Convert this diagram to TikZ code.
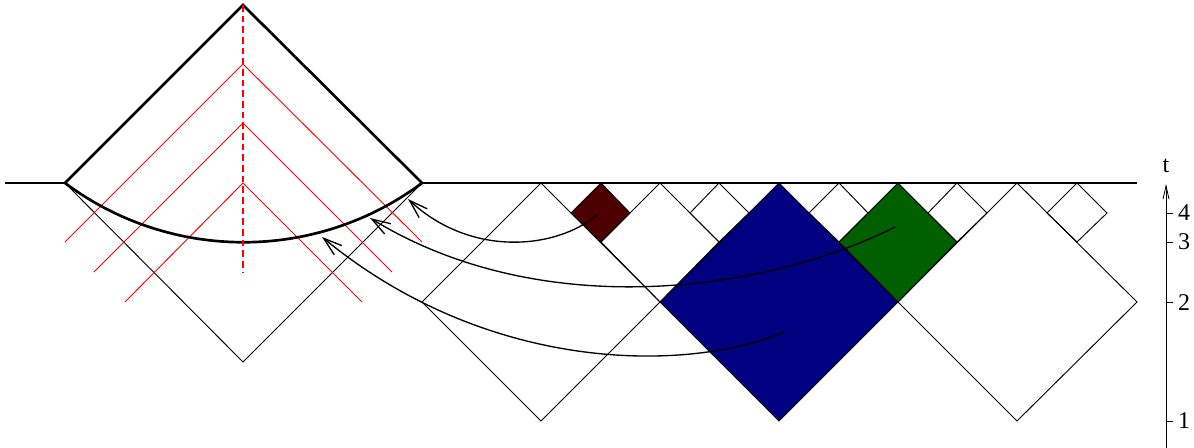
\documentclass[tikz,border=0pt]{standalone}
\usepackage{fontspec}
\setmainfont{Liberation Serif}
\usetikzlibrary{arrows.meta}
\definecolor{bluefill}{RGB}{0,0,128}
\definecolor{greenfill}{RGB}{0,96,0}
\definecolor{redfill}{RGB}{77,0,0}
\tikzset{
  thinline/.style={draw=black,line width=0.7pt,line join=miter},
  thickline/.style={draw=black,line width=2pt,line join=miter},
  redline/.style={draw=red,line width=0.7pt},
  reddash/.style={draw=red,line width=0.9pt,dash pattern=on 5pt off 3pt},
  linkcurve/.style={draw=black,line width=1pt,-{Straight Barb[length=14pt,width=9pt,line width=1pt]}},
  ticklabel/.style={inner sep=0pt,font=\fontsize{18}{20}\selectfont},
}
\begin{document}
\begin{tikzpicture}[x=0.75pt,y=-0.75pt]
\useasboundingbox (0,0) rectangle (1194,448);
% coordinates
\coordinate (a1) at (422,183);
\coordinate (a2) at (65,183);
\coordinate (apex) at (243,5);
\coordinate (dbot) at (243,272);
% left diamond lower edges
\draw[thinline] (a2) -- (243,362) -- (a1);
% red nested wedges
\draw[redline] (65,242) -- (243,64) -- (422,242);
\draw[redline] (94,272) -- (243,123) -- (392,272);
\draw[redline] (125,302) -- (243,183) -- (362,302);
% thick cap
\draw[thickline] (a2) -- (apex) -- (a1);
\draw[thickline] (a2) .. controls (171,262) and (316,262) .. (a1);
\draw[thickline] (5,183) -- (a2);
\draw[reddash] (apex) -- (dbot);
% large diamonds
\draw[thinline] (541,183) -- (422,302) -- (541,421) -- (660,302) -- cycle;
\draw[thinline,fill=bluefill] (779,183) -- (660,302) -- (779,421) -- (898,302) -- cycle;
\draw[thinline] (1017,183) -- (898,302) -- (1017,421) -- (1137,302) -- cycle;
% medium diamonds
\draw[thinline] (660,183) -- (601,242) -- (660,302) -- (719,242) -- cycle;
\draw[thinline,fill=greenfill] (898,183) -- (839,242) -- (898,302) -- (957,242) -- cycle;
% small diamonds
\draw[thinline,fill=redfill] (601,183) -- (571,213) -- (601,242) -- (630,213) -- cycle;
\draw[thinline] (719,183) -- (690,213) -- (719,242) -- (749,213) -- cycle;
\draw[thinline] (839,183) -- (809,213) -- (839,242) -- (868,213) -- cycle;
\draw[thinline] (957,183) -- (928,213) -- (957,242) -- (987,213) -- cycle;
\draw[thinline] (1077,183) -- (1047,213) -- (1077,242) -- (1107,213) -- cycle;
\draw[thickline] (a1) -- (1137,183);
% links
\coordinate (s1) at (597,215); \coordinate (e1) at (408,199);
\coordinate (s2) at (895,227); \coordinate (e2) at (370,218);
\coordinate (s3) at (784,332); \coordinate (e3) at (322,237);
\draw[linkcurve] (s1) .. controls (555,250) and (470,257) .. (e1);
\draw[linkcurve] (s2) .. controls (770,290) and (545,325) .. (e2);
\draw[linkcurve] (s3) .. controls (690,372) and (490,375) .. (e3);
% time axis
\coordinate (axb) at (1166,448); \coordinate (axt) at (1166,184);
\draw[draw=black,line width=0.7pt,-{Straight Barb[length=10pt,width=4.5pt,line width=0.6pt]}] (axb) -- (axt);
\node[ticklabel] (tlab) at (1166,166) {t};
\draw[thinline] (1166,213) -- (1173,213);
\draw[thinline] (1166,242) -- (1173,242);
\draw[thinline] (1166,302) -- (1173,302);
\draw[thinline] (1166,421) -- (1173,421);
\node[ticklabel] (n4) at (1184,213) {4};
\node[ticklabel] (n3) at (1184,242) {3};
\node[ticklabel] (n2) at (1184,302.5) {2};
\node[ticklabel] (n1) at (1184,420.5) {1};
\end{tikzpicture}
\end{document}
